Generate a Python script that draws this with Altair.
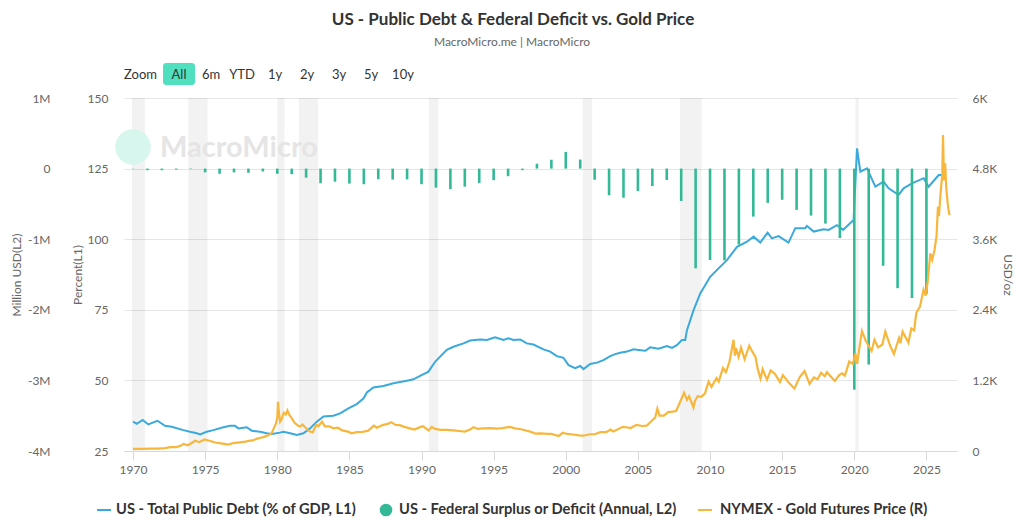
import altair as alt
import pandas as pd

# ---------------- data ----------------
deficit_years = list(range(1970, 2026))
deficit_values = [  # million USD
    -2842, -23033, -23373, -14908, -6135, -53242, -73732, -53659, -59185, -40726,
    -73830, -78968, -127977, -207802, -185367, -212308, -221227, -149730, -155178, -152639,
    -221036, -269238, -290321, -255051, -203186, -163952, -107431, -21884, 69270, 125610,
    236241, 128236, -157758, -377585, -412727, -318346, -248181, -160701, -458553, -1412688,
    -1294373, -1299599, -1076573, -679775, -484597, -441960, -584651, -665446, -779137, -983592,
    -3131917, -2775298, -1375904, -1693690, -1832812, -1775000,
]

debt_t = [
    1970.00, 1970.26, 1970.67, 1971.06, 1971.69, 1972.22, 1972.68, 1973.49, 1973.95, 1974.42,
    1974.65, 1975.11, 1975.57, 1976.26, 1976.73, 1977.07, 1977.30, 1977.88, 1978.23, 1978.81,
    1979.27, 1979.62, 1980.19, 1980.42, 1980.89, 1981.35, 1981.81, 1982.27, 1982.74, 1983.20,
    1983.89, 1984.36, 1984.93, 1985.51, 1985.97, 1986.21, 1986.66, 1987.36, 1988.05, 1988.98,
    1989.44, 1989.90, 1990.48, 1990.94, 1991.17, 1991.75, 1992.21, 1992.91, 1993.37, 1994.06,
    1994.53, 1995.10, 1995.68, 1996.03, 1996.37, 1996.84, 1997.30, 1997.76, 1998.45, 1998.92,
    1999.38, 1999.84, 2000.19, 2000.65, 2001.00, 2001.23, 2001.69, 2002.16, 2002.61, 2003.08,
    2003.43, 2003.77, 2004.24, 2004.69, 2005.04, 2005.51, 2005.85, 2006.43, 2007.01, 2007.36,
    2007.70, 2008.05, 2008.28, 2008.40, 2008.86, 2009.32, 2010.01, 2010.71, 2011.17, 2011.87,
    2012.56, 2013.02, 2013.48, 2013.99, 2014.29, 2014.75, 2015.44, 2015.91, 2016.60, 2016.72,
    2017.18, 2017.87, 2018.22, 2018.80, 2019.22, 2019.95, 2020.19, 2020.42, 2020.88, 2021.46,
    2022.03, 2022.38, 2023.07, 2023.42, 2024.00, 2024.81, 2025.15, 2025.85, 2026.08,
]
debt_v = [
    35.4, 34.6, 36.0, 34.4, 35.7, 33.9, 33.6, 32.4, 31.8, 31.3,
    30.9, 31.8, 32.4, 33.4, 33.9, 33.9, 33.0, 33.4, 32.2, 31.8,
    31.3, 31.0, 31.5, 31.8, 31.3, 30.7, 31.3, 33.0, 35.4, 37.2,
    37.5, 38.3, 40.1, 41.6, 43.6, 45.7, 47.5, 48.0, 49.0, 49.9,
    50.4, 51.6, 53.1, 56.6, 57.8, 60.8, 61.9, 63.1, 64.1, 64.5,
    64.3, 65.3, 64.3, 64.9, 64.3, 64.5, 63.1, 62.7, 61.0, 60.2,
    58.6, 58.0, 55.4, 54.3, 55.1, 54.0, 55.8, 56.3, 57.2, 58.6,
    59.3, 59.8, 60.2, 61.0, 60.8, 60.5, 61.7, 61.2, 62.2, 61.5,
    62.5, 64.3, 64.3, 67.8, 74.9, 80.8, 86.7, 90.3, 92.6, 97.3,
    99.1, 100.9, 98.8, 102.3, 100.3, 101.1, 98.8, 103.9, 103.9, 104.7,
    102.7, 103.5, 103.3, 105.0, 103.3, 106.8, 132.2, 123.9, 125.1, 118.6,
    120.4, 118.0, 115.7, 118.0, 119.8, 121.6, 118.6, 122.7, 122.7,
]

gold_t = [
    1970.0, 1970.6, 1971.2, 1971.7, 1972.2, 1972.6, 1973.0, 1973.3, 1973.5, 1973.8,
    1974.1, 1974.3, 1974.6, 1974.95, 1975.3, 1975.7, 1976.1, 1976.6, 1976.95, 1977.4,
    1977.8, 1978.0, 1978.3, 1978.6, 1978.85, 1979.1, 1979.4, 1979.6, 1979.75, 1979.9,
    1980.0, 1980.05, 1980.1, 1980.2, 1980.3, 1980.45, 1980.6, 1980.7, 1980.85, 1981.0,
    1981.2, 1981.45, 1981.6, 1981.75, 1981.95, 1982.2, 1982.45, 1982.7, 1982.85, 1983.1,
    1983.3, 1983.6, 1983.9, 1984.2, 1984.5, 1984.9, 1985.15, 1985.5, 1985.9, 1986.3,
    1986.7, 1986.9, 1987.3, 1987.7, 1987.9, 1988.2, 1988.5, 1988.8, 1989.2, 1989.5,
    1989.95, 1990.1, 1990.5, 1990.7, 1990.9, 1991.3, 1991.8, 1992.2, 1992.6, 1993.0,
    1993.4, 1993.6, 1993.9, 1994.3, 1994.8, 1995.2, 1995.6, 1996.1, 1996.5, 1996.9,
    1997.3, 1997.6, 1997.9, 1998.3, 1998.7, 1999.0, 1999.5, 1999.8, 2000.1, 2000.5,
    2000.9, 2001.2, 2001.7, 2002.0, 2002.4, 2002.8, 2003.1, 2003.3, 2003.7, 2003.95,
    2004.3, 2004.5, 2004.9, 2005.3, 2005.6, 2005.95, 2006.2, 2006.35, 2006.5, 2006.8,
    2007.1, 2007.4, 2007.65, 2007.9, 2008.2, 2008.4, 2008.55, 2008.85, 2008.95, 2009.15,
    2009.4, 2009.65, 2009.9, 2010.1, 2010.45, 2010.6, 2010.9, 2011.1, 2011.35, 2011.63,
    2011.72, 2011.8, 2011.98, 2012.15, 2012.4, 2012.72, 2012.95, 2013.15, 2013.3, 2013.5,
    2013.65, 2013.95, 2014.2, 2014.5, 2014.85, 2015.05, 2015.5, 2015.85, 2016.2, 2016.55,
    2016.9, 2017.2, 2017.45, 2017.7, 2017.95, 2018.1, 2018.65, 2018.95, 2019.15, 2019.35,
    2019.65, 2019.9, 2020.07, 2020.2, 2020.35, 2020.53, 2020.8, 2021.2, 2021.4, 2021.65,
    2021.95, 2022.15, 2022.5, 2022.75, 2023.1, 2023.2, 2023.35, 2023.75, 2023.95, 2024.15,
    2024.3, 2024.55, 2024.8, 2024.95, 2025.1, 2025.27, 2025.4, 2025.55, 2025.7, 2025.8,
    2025.87, 2025.97, 2026.1, 2026.15, 2026.22, 2026.3, 2026.38, 2026.5, 2026.6,
]
gold_v = [
    35, 36, 39, 42, 48, 65, 66, 90, 120, 98,
    140, 175, 150, 195, 175, 145, 130, 110, 135, 148,
    160, 172, 180, 210, 225, 240, 270, 300, 380, 460,
    560, 838, 680, 500, 540, 650, 620, 690, 610, 560,
    480, 430, 420, 450, 400, 340, 315, 440, 420, 500,
    420, 420, 385, 395, 350, 330, 300, 320, 325, 345,
    430, 395, 440, 465, 490, 445, 440, 410, 385, 365,
    410, 420, 350, 410, 380, 360, 360, 350, 340, 330,
    370, 405, 375, 385, 390, 380, 390, 410, 385, 370,
    345, 325, 295, 300, 290, 290, 255, 310, 290, 280,
    265, 260, 285, 285, 320, 320, 365, 330, 380, 410,
    400, 390, 445, 425, 430, 510, 570, 720, 600, 600,
    660, 670, 680, 820, 990, 870, 930, 740, 850, 930,
    920, 980, 1180, 1090, 1240, 1180, 1410, 1340, 1520, 1890,
    1620, 1750, 1600, 1760, 1560, 1790, 1680, 1600, 1400, 1230,
    1390, 1210, 1370, 1310, 1170, 1290, 1150, 1060, 1250, 1360,
    1140, 1250, 1220, 1330, 1270, 1340, 1190, 1290, 1320, 1280,
    1520, 1480, 1660, 1480, 1750, 2040, 1870, 1700, 1890, 1760,
    1810, 2030, 1780, 1650, 1920, 1830, 2030, 1840, 2080, 2050,
    2350, 2450, 2740, 2640, 2900, 3360, 3250, 3400, 3650, 4150,
    3990, 4350, 4700, 5370, 4600, 4890, 4450, 4150, 4010,
]

recession_start = [1969.92, 1973.83, 1980.0, 1981.5, 1990.5, 2001.17, 2007.92, 2020.08]
recession_end = [1970.83, 1975.17, 1980.5, 1982.83, 1991.17, 2001.83, 2009.42, 2020.3]

pct_ticks = [25, 50, 75, 100, 125, 150]
usd_ticks = [-4000000, -3000000, -2000000, -1000000, 0, 1000000]
gold_ticks = [0, 1200, 2400, 3600, 4800, 6000]
year_ticks = list(range(1970, 2030, 5))

# ---------------- styling ----------------
FONT = "Lato"
BLUE = "#3aa9dc"
GREEN = "#33b996"
GOLD = "#f6b73c"
W, H = 833, 353
OX, OY = 124, 98  # plot-area origin on the page


def px(x):
    return x - OX


def py(y):
    return y - OY


one = pd.DataFrame({"k": [0]})

def_df = pd.DataFrame({"year": deficit_years, "v": deficit_values})
debt_df = pd.DataFrame({"t": debt_t, "v": debt_v})
gold_df = pd.DataFrame({"t": gold_t, "p": gold_v})
rec_df = pd.DataFrame({"s": recession_start, "e": recession_end})

xscale = alt.Scale(domain=[1969.375, 2027.12], nice=False, zero=False)
xaxis = alt.Axis(values=year_ticks, format="d", title=None, grid=False,
                 domainColor="#d9d9d9", tickColor="#d9d9d9", tickSize=9,
                 labelPadding=4, labelFlush=False)

bands = alt.Chart(rec_df).mark_rect(color="#000000", opacity=0.05).encode(
    x=alt.X("s:Q", scale=xscale, axis=xaxis),
    x2="e:Q",
    y=alt.value(0),
    y2=alt.value(H),
)

wm_circle = alt.Chart(one).mark_circle(size=1260, color="#d6f6ee", opacity=1).encode(
    x=alt.value(px(133)), y=alt.value(py(147)))
wm_text = alt.Chart(one).mark_text(
    text="MacroMicro", font=FONT, fontSize=29, fontWeight="bold", color="#e5e5e5",
    align="left", baseline="alphabetic").encode(x=alt.value(px(160)), y=alt.value(py(157)))

debt = alt.Chart(debt_df).mark_line(color=BLUE, strokeWidth=2).encode(
    x=alt.X("t:Q", scale=xscale, axis=xaxis),
    y=alt.Y("v:Q", scale=alt.Scale(domain=[25, 150], nice=False, zero=False),
            axis=alt.Axis(orient="left", values=pct_ticks, grid=True, gridColor="#e6e6e6",
                          domain=False, ticks=False, labelPadding=16,
                          title="Percent(L1)", titleX=-47, titleY=H / 2, titleAngle=-90,
                          titleAlign="center", titleBaseline="middle")),
)

bars = alt.Chart(def_df).mark_rule(color=GREEN, strokeWidth=2.6).encode(
    x=alt.X("year:Q", scale=xscale, axis=xaxis),
    y=alt.Y("v:Q", scale=alt.Scale(domain=[-4000000, 1000000], nice=False, zero=False),
            axis=alt.Axis(orient="left", offset=58, values=usd_ticks, grid=False,
                          domain=False, ticks=False, labelPadding=16,
                          labelExpr="datum.value == 0 ? '0' : (datum.value < 0 ? '-' : '') + abs(datum.value) / 1000000 + 'M'",
                          title="Million USD(L2)", titleX=-50, titleY=H / 2, titleAngle=-90,
                          titleAlign="center", titleBaseline="middle")),
    y2=alt.datum(0),
)

gold = alt.Chart(gold_df).mark_line(color=GOLD, strokeWidth=2.2).encode(
    x=alt.X("t:Q", scale=xscale, axis=xaxis),
    y=alt.Y("p:Q", scale=alt.Scale(domain=[0, 6000], nice=False, zero=False),
            axis=alt.Axis(orient="right", values=gold_ticks, grid=False,
                          domain=False, ticks=False, labelPadding=15,
                          labelExpr="datum.value == 0 ? '0' : datum.value / 1000 + 'K'",
                          title="USD/oz", titleX=50, titleY=H / 2, titleAngle=90,
                          titleAlign="center", titleBaseline="middle")),
)


def txt(s, x, y, size=12, color="#333333", weight="normal", align="left", baseline="alphabetic"):
    return alt.Chart(one).mark_text(
        text=s, font=FONT, fontSize=size, color=color, fontWeight=weight,
        align=align, baseline=baseline).encode(x=alt.value(px(x)), y=alt.value(py(y)))


ui = [
    txt("US - Public Debt & Federal Deficit vs. Gold Price", 513, 25, size=17,
        weight="bold", align="center"),
    txt("MacroMicro.me | MacroMicro", 512, 46, size=12, color="#666666", align="center"),
    alt.Chart(one).mark_rect(color="#50e0c0", cornerRadius=3).encode(
        x=alt.value(px(163)), x2=alt.value(px(195)), y=alt.value(py(63)), y2=alt.value(py(85))),
    txt("Zoom", 124, 79.3, size=13, color="#333333"),
    txt("All", 179, 79.3, size=13, align="center"),
    txt("6m", 211, 79.3, size=13, align="center"),
    txt("YTD", 242, 79.3, size=13, align="center"),
    txt("1y", 275, 79.3, size=13, align="center"),
    txt("2y", 307, 79.3, size=13, align="center"),
    txt("3y", 339, 79.3, size=13, align="center"),
    txt("5y", 371, 79.3, size=13, align="center"),
    txt("10y", 403, 79.3, size=13, align="center"),
    # legend
    alt.Chart(one).mark_rule(color=BLUE, strokeWidth=2).encode(
        x=alt.value(px(97)), x2=alt.value(px(111)), y=alt.value(py(510))),
    txt("US - Total Public Debt (% of GDP, L1)", 116, 510, size=14.7, weight="bold",
        baseline="middle"),
    alt.Chart(one).mark_circle(size=160, color=GREEN, opacity=1).encode(
        x=alt.value(px(386)), y=alt.value(py(510))),
    txt("US - Federal Surplus or Deficit (Annual, L2)", 399, 510, size=14.7, weight="bold",
        baseline="middle"),
    alt.Chart(one).mark_rule(color=GOLD, strokeWidth=2).encode(
        x=alt.value(px(698)), x2=alt.value(px(712)), y=alt.value(py(510))),
    txt("NYMEX - Gold Futures Price (R)", 720, 510, size=14.7, weight="bold",
        baseline="middle"),
]

chart = alt.layer(bands, wm_circle, wm_text, debt, bars, gold, *ui).resolve_scale(
    y="independent"
).properties(
    width=W, height=H,
    padding={"left": OX - 8, "top": OY - 8, "right": 59, "bottom": 70},
    autosize=alt.AutoSizeParams(type="none"),
).configure_view(stroke="transparent").configure_axis(
    labelFont=FONT, labelFontSize=12, labelColor="#666666",
    titleFont=FONT, titleFontSize=12, titleColor="#666666", titleFontWeight="normal",
)

chart.save("out.html", embed_options={"renderer": "svg", "actions": False})
